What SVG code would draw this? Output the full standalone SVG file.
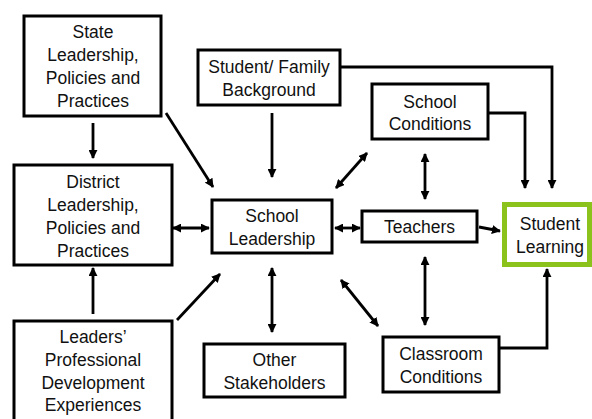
<svg xmlns="http://www.w3.org/2000/svg" width="592" height="419" viewBox="0 0 592 419">
  <style>
    .box { fill: #ffffff; stroke: #000000; stroke-width: 3; }
    .goal { fill: #ffffff; stroke: #8cc21c; stroke-width: 5; }
    .lbl { font-family: "Liberation Sans", Arial, sans-serif; font-size: 17.5px; fill: #111111; text-anchor: middle; }
    .link { fill: none; stroke: #000000; stroke-width: 2.8; }
  </style>
  <defs>
    <marker id="head" viewBox="0 0 10 10" refX="9" refY="5" markerWidth="9" markerHeight="9" markerUnits="userSpaceOnUse" orient="auto-start-reverse">
      <path d="M0,0 L10,5 L0,10 z" fill="#000000"/>
    </marker>
  </defs>
  <rect width="592" height="419" fill="#ffffff"/>

  <g id="connectors">
    <line class="link" x1="93" y1="123" x2="93" y2="158" marker-end="url(#head)"/>
    <line class="link" x1="166" y1="113" x2="213" y2="187" marker-end="url(#head)"/>
    <line class="link" x1="272" y1="113" x2="272" y2="177" marker-end="url(#head)"/>
    <polyline class="link" points="341,67 552,67 552,188" marker-end="url(#head)"/>
    <polyline class="link" points="489,113 525,113 525,188" marker-end="url(#head)"/>
    <line class="link" x1="367" y1="153" x2="336" y2="188" marker-start="url(#head)" marker-end="url(#head)"/>
    <line class="link" x1="425" y1="154" x2="425" y2="199" marker-start="url(#head)" marker-end="url(#head)"/>
    <line class="link" x1="173" y1="228" x2="209" y2="228" marker-start="url(#head)" marker-end="url(#head)"/>
    <line class="link" x1="93" y1="314" x2="93" y2="268" marker-end="url(#head)"/>
    <line class="link" x1="177" y1="320" x2="220" y2="274" marker-end="url(#head)"/>
    <line class="link" x1="272" y1="268" x2="272" y2="332" marker-start="url(#head)" marker-end="url(#head)"/>
    <line class="link" x1="335" y1="228" x2="360" y2="228" marker-start="url(#head)" marker-end="url(#head)"/>
    <line class="link" x1="479" y1="227" x2="500" y2="231" marker-end="url(#head)"/>
    <line class="link" x1="341" y1="280" x2="378" y2="326" marker-start="url(#head)" marker-end="url(#head)"/>
    <line class="link" x1="425" y1="257" x2="425" y2="325" marker-start="url(#head)" marker-end="url(#head)"/>
    <polyline class="link" points="500,348 547,348 547,269" marker-end="url(#head)"/>
  </g>

  <g id="state">
    <rect class="box" x="24" y="16" width="137" height="100"/>
    <text class="lbl" x="93" y="38">State</text>
    <text class="lbl" x="93" y="61">Leadership,</text>
    <text class="lbl" x="93" y="84">Policies and</text>
    <text class="lbl" x="93" y="107">Practices</text>
  </g>

  <g id="district">
    <rect class="box" x="14" y="165" width="158" height="100"/>
    <text class="lbl" x="93" y="188">District</text>
    <text class="lbl" x="93" y="211">Leadership,</text>
    <text class="lbl" x="93" y="234">Policies and</text>
    <text class="lbl" x="93" y="257">Practices</text>
  </g>

  <g id="leaders">
    <rect class="box" x="14" y="321" width="158" height="110"/>
    <text class="lbl" x="93" y="343">Leaders’</text>
    <text class="lbl" x="93" y="366">Professional</text>
    <text class="lbl" x="93" y="389">Development</text>
    <text class="lbl" x="93" y="411">Experiences</text>
  </g>

  <g id="family">
    <rect class="box" x="198" y="50" width="142" height="55"/>
    <text class="lbl" x="269" y="73">Student/ Family</text>
    <text class="lbl" x="269" y="96">Background</text>
  </g>

  <g id="school-conditions">
    <rect class="box" x="372" y="84" width="116" height="55"/>
    <text class="lbl" x="430" y="108">School</text>
    <text class="lbl" x="430" y="130">Conditions</text>
  </g>

  <g id="school-leadership">
    <rect class="box" x="212" y="200" width="120" height="53"/>
    <text class="lbl" x="272" y="222">School</text>
    <text class="lbl" x="272" y="245">Leadership</text>
  </g>

  <g id="teachers">
    <rect class="box" x="362" y="211" width="115" height="31"/>
    <text class="lbl" x="419.5" y="233">Teachers</text>
  </g>

  <g id="student-learning">
    <rect class="goal" x="504.5" y="204.5" width="85" height="60"/>
    <text class="lbl" x="550" y="230">Student</text>
    <text class="lbl" x="550" y="253">Learning</text>
  </g>

  <g id="stakeholders">
    <rect class="box" x="204" y="344" width="141" height="53"/>
    <text class="lbl" x="274.5" y="366">Other</text>
    <text class="lbl" x="274.5" y="389">Stakeholders</text>
  </g>

  <g id="classroom">
    <rect class="box" x="383" y="337" width="116" height="55"/>
    <text class="lbl" x="441" y="360">Classroom</text>
    <text class="lbl" x="441" y="383">Conditions</text>
  </g>
</svg>
